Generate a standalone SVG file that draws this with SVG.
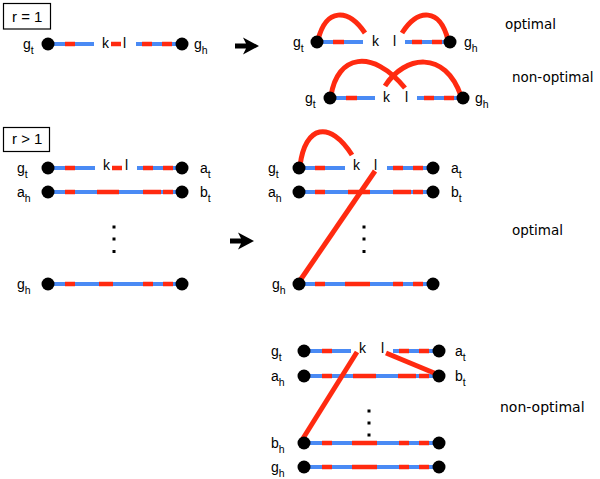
<svg xmlns="http://www.w3.org/2000/svg" width="600" height="479" viewBox="0 0 600 479">
<defs>
<style>
.b{stroke:#4a8af4;stroke-width:4;fill:none}
.r{stroke:#ff2a10;stroke-width:4.5;fill:none}
.c{stroke:#ff2a10;stroke-width:5;fill:none}
.d{fill:#000}
.lb{font-family:"Liberation Sans",Arial,sans-serif;font-size:14px;fill:#000}
.sub{font-size:10.5px}
.rt{font-family:"DejaVu Sans",Verdana,sans-serif;font-size:13.5px;fill:#000}
.box{fill:#fff;stroke:#000;stroke-width:1.2}
.bx{font-family:"Liberation Sans",Arial,sans-serif;font-size:15px;fill:#000}
.dot3{fill:#000}
</style>
<path id="arr" d="M0,-2.5 H11 L8,-8.5 L24,0 L8,8.5 L11,2.5 H0 Z"/>
</defs>
<rect width="600" height="479" fill="#fff"/>

<!-- boxes -->
<g id="box1"><rect class="box" x="3.5" y="3.5" width="47" height="25.5"/><text class="bx" x="12" y="22">r = 1</text></g>
<g id="box2"><rect class="box" x="3.5" y="127.5" width="46" height="24"/><text class="bx" x="12" y="144">r &gt; 1</text></g>

<!-- arrows -->
<use href="#arr" x="235" y="46"/>
<use href="#arr" x="230" y="241"/>

<!-- right labels -->
<text class="rt" x="505" y="29">optimal</text>
<text class="rt" x="512" y="82">non-optimal</text>
<text class="rt" x="512" y="235">optimal</text>
<text class="rt" x="500" y="412" style="font-size:14px">non-optimal</text>

<!-- Panel A: r=1 before -->
<g id="A-row">
<line class="b" x1="48" y1="44" x2="94" y2="44"/><line class="r" x1="65" y1="44" x2="75" y2="44"/>
<line class="r" x1="111" y1="44" x2="121" y2="44"/>
<line class="b" x1="136" y1="44" x2="182" y2="44"/><line class="r" x1="142" y1="44" x2="152" y2="44"/><line class="r" x1="162" y1="44" x2="172" y2="44"/>
<text class="lb" x="102" y="48">k</text><text class="lb" x="123" y="48">l</text>
<text class="lb" x="23" y="49">g<tspan class="sub" dy="5">t</tspan></text>
<text class="lb" x="194" y="49">g<tspan class="sub" dy="5">h</tspan></text>
</g>

<!-- Panel B row 1 -->
<g id="B1-row">
<line class="b" x1="317" y1="42" x2="363" y2="42"/><line class="r" x1="333" y1="42" x2="344" y2="42"/>
<line class="b" x1="405" y1="42" x2="450" y2="42"/><line class="r" x1="412" y1="42" x2="422" y2="42"/><line class="r" x1="432" y1="42" x2="442" y2="42"/>
<text class="lb" x="372" y="46">k</text><text class="lb" x="393" y="46">l</text>
<text class="lb" x="293" y="47">g<tspan class="sub" dy="5">t</tspan></text>
<text class="lb" x="464" y="47">g<tspan class="sub" dy="5">h</tspan></text>
</g>
<!-- Panel B row 2 -->
<g id="B2-row">
<line class="b" x1="330" y1="98" x2="375" y2="98"/><line class="r" x1="346" y1="98" x2="357" y2="98"/>
<line class="b" x1="417" y1="98" x2="463" y2="98"/><line class="r" x1="424" y1="98" x2="434" y2="98"/><line class="r" x1="444" y1="98" x2="454" y2="98"/>
<text class="lb" x="383" y="102">k</text><text class="lb" x="405" y="102">l</text>
<text class="lb" x="305" y="103">g<tspan class="sub" dy="5">t</tspan></text>
<text class="lb" x="475" y="103">g<tspan class="sub" dy="5">h</tspan></text>
</g>

<!-- Panel C: r>1 before -->
<g id="C-row1">
<line class="b" x1="48" y1="168" x2="95" y2="168"/><line class="r" x1="65" y1="168" x2="75" y2="168"/>
<line class="r" x1="112" y1="168" x2="122" y2="168"/>
<line class="b" x1="137" y1="168" x2="182" y2="168"/><line class="r" x1="143" y1="168" x2="153" y2="168"/><line class="r" x1="163" y1="168" x2="173" y2="168"/>
<text class="lb" x="103" y="170">k</text><text class="lb" x="125" y="170">l</text>
<text class="lb" x="17" y="173">g<tspan class="sub" dy="5">t</tspan></text>
<text class="lb" x="200" y="173">a<tspan class="sub" dy="5">t</tspan></text>
</g>
<g id="C-row2">
<line class="b" x1="48" y1="192" x2="182" y2="192"/>
<line class="r" x1="65" y1="192" x2="75" y2="192"/><line class="r" x1="97" y1="192" x2="119" y2="192"/><line class="r" x1="143" y1="192" x2="161" y2="192"/><line class="r" x1="163" y1="192" x2="173" y2="192"/>
<text class="lb" x="17" y="197">a<tspan class="sub" dy="5">h</tspan></text>
<text class="lb" x="200" y="197">b<tspan class="sub" dy="5">t</tspan></text>
</g>
<g id="C-dots"><rect class="dot3" x="112.5" y="225.5" width="3" height="3"/><rect class="dot3" x="112.5" y="237.5" width="3" height="3"/><rect class="dot3" x="112.5" y="250" width="3" height="3"/></g>
<g id="C-row3">
<line class="b" x1="48" y1="284" x2="182" y2="284"/>
<line class="r" x1="65" y1="284" x2="75" y2="284"/><line class="r" x1="99" y1="284" x2="113" y2="284"/><line class="r" x1="143" y1="284" x2="153" y2="284"/><line class="r" x1="163" y1="284" x2="173" y2="284"/>
<text class="lb" x="17" y="289">g<tspan class="sub" dy="5">h</tspan></text>
</g>

<!-- Panel D: r>1 optimal -->
<g id="D-row1">
<line class="b" x1="299" y1="168" x2="345" y2="168"/><line class="r" x1="315" y1="168" x2="325" y2="168"/>
<line class="b" x1="387" y1="168" x2="433" y2="168"/><line class="r" x1="393" y1="168" x2="403" y2="168"/><line class="r" x1="413" y1="168" x2="423" y2="168"/>
<text class="lb" x="353" y="170">k</text><text class="lb" x="374" y="170">l</text>
<text class="lb" x="268" y="173">g<tspan class="sub" dy="5">t</tspan></text>
<text class="lb" x="451" y="173">a<tspan class="sub" dy="5">t</tspan></text>
</g>
<g id="D-row2">
<line class="b" x1="299" y1="192" x2="433" y2="192"/>
<line class="r" x1="315" y1="192" x2="325" y2="192"/><line class="r" x1="348" y1="192" x2="370" y2="192"/><line class="r" x1="393" y1="192" x2="411" y2="192"/><line class="r" x1="413" y1="192" x2="423" y2="192"/>
<text class="lb" x="268" y="197">a<tspan class="sub" dy="5">h</tspan></text>
<text class="lb" x="451" y="197">b<tspan class="sub" dy="5">t</tspan></text>
</g>
<g id="D-dots"><rect class="dot3" x="362.5" y="225.5" width="3" height="3"/><rect class="dot3" x="362.5" y="237.5" width="3" height="3"/><rect class="dot3" x="362.5" y="250" width="3" height="3"/></g>
<g id="D-row3">
<line class="b" x1="299" y1="284" x2="433" y2="284"/>
<line class="r" x1="315" y1="284" x2="325" y2="284"/><line class="r" x1="345" y1="284" x2="370" y2="284"/><line class="r" x1="393" y1="284" x2="403" y2="284"/><line class="r" x1="413" y1="284" x2="423" y2="284"/>
<text class="lb" x="272" y="289">g<tspan class="sub" dy="5">h</tspan></text>
</g>

<!-- Panel E: r>1 non-optimal -->
<g id="E-row1">
<line class="b" x1="304" y1="351" x2="351" y2="351"/><line class="r" x1="322" y1="351" x2="332" y2="351"/>
<line class="b" x1="393" y1="351" x2="439" y2="351"/><line class="r" x1="399" y1="351" x2="409" y2="351"/><line class="r" x1="419" y1="351" x2="429" y2="351"/>
<text class="lb" x="359" y="353">k</text><text class="lb" x="381" y="353">l</text>
<text class="lb" x="271" y="356">g<tspan class="sub" dy="5">t</tspan></text>
<text class="lb" x="455" y="356">a<tspan class="sub" dy="5">t</tspan></text>
</g>
<g id="E-row2">
<line class="b" x1="304" y1="376" x2="439" y2="376"/>
<line class="r" x1="322" y1="376" x2="332" y2="376"/><line class="r" x1="353" y1="376" x2="376" y2="376"/><line class="r" x1="398" y1="376" x2="416" y2="376"/><line class="r" x1="419" y1="376" x2="429" y2="376"/>
<text class="lb" x="271" y="381">a<tspan class="sub" dy="5">h</tspan></text>
<text class="lb" x="455" y="381">b<tspan class="sub" dy="5">t</tspan></text>
</g>
<g id="E-dots"><rect class="dot3" x="367.5" y="409.5" width="3" height="3"/><rect class="dot3" x="367.5" y="421.5" width="3" height="3"/><rect class="dot3" x="367.5" y="433.5" width="3" height="3"/></g>
<g id="E-row3">
<line class="b" x1="304" y1="443" x2="439" y2="443"/>
<line class="r" x1="322" y1="443" x2="332" y2="443"/><line class="r" x1="352" y1="443" x2="377" y2="443"/><line class="r" x1="399" y1="443" x2="409" y2="443"/><line class="r" x1="419" y1="443" x2="429" y2="443"/>
<text class="lb" x="271" y="448">b<tspan class="sub" dy="5">h</tspan></text>
</g>
<g id="E-row4">
<line class="b" x1="304" y1="467" x2="439" y2="467"/>
<line class="r" x1="322" y1="467" x2="332" y2="467"/><line class="r" x1="352" y1="467" x2="377" y2="467"/><line class="r" x1="399" y1="467" x2="409" y2="467"/><line class="r" x1="419" y1="467" x2="429" y2="467"/>
<text class="lb" x="271" y="472">g<tspan class="sub" dy="5">h</tspan></text>
</g>

<!-- connectors -->
<g id="connectors">
<path class="c" d="M318,40 C326,8 348,8 365,33"/>
<path class="c" d="M402,33 C418,8 440,8 448,40"/>
<path class="c" d="M331,96 C337,55 372,48 405,88"/>
<path class="c" d="M385,86 C405,55 445,50 461,96"/>
<path class="c" d="M300,166 C305,125 330,120 352,155"/>
<line class="c" x1="375" y1="171" x2="299" y2="282"/>
<line class="c" x1="386" y1="353" x2="439" y2="375"/>
<line class="c" x1="357" y1="352" x2="302" y2="440"/>
</g>

<!-- gene ends -->
<g id="ends">
<circle class="d" cx="48" cy="44" r="6.5"/><circle class="d" cx="182" cy="44" r="6.5"/>
<circle class="d" cx="317" cy="42" r="6.5"/><circle class="d" cx="450" cy="42" r="6.5"/>
<circle class="d" cx="330" cy="98" r="6.5"/><circle class="d" cx="463" cy="98" r="6.5"/>
<circle class="d" cx="48" cy="168" r="6.5"/><circle class="d" cx="182" cy="168" r="6.5"/>
<circle class="d" cx="48" cy="192" r="6.5"/><circle class="d" cx="182" cy="192" r="6.5"/>
<circle class="d" cx="48" cy="284" r="6.5"/><circle class="d" cx="182" cy="284" r="6.5"/>
<circle class="d" cx="299" cy="168" r="6.5"/><circle class="d" cx="433" cy="168" r="6.5"/>
<circle class="d" cx="299" cy="192" r="6.5"/><circle class="d" cx="433" cy="192" r="6.5"/>
<circle class="d" cx="299" cy="284" r="6.5"/><circle class="d" cx="433" cy="284" r="6.5"/>
<circle class="d" cx="304" cy="351" r="6.5"/><circle class="d" cx="439" cy="351" r="6.5"/>
<circle class="d" cx="304" cy="376" r="6.5"/><circle class="d" cx="439" cy="376" r="6.5"/>
<circle class="d" cx="304" cy="443" r="6.5"/><circle class="d" cx="439" cy="443" r="6.5"/>
<circle class="d" cx="304" cy="467" r="6.5"/><circle class="d" cx="439" cy="467" r="6.5"/>
</g>
</svg>
